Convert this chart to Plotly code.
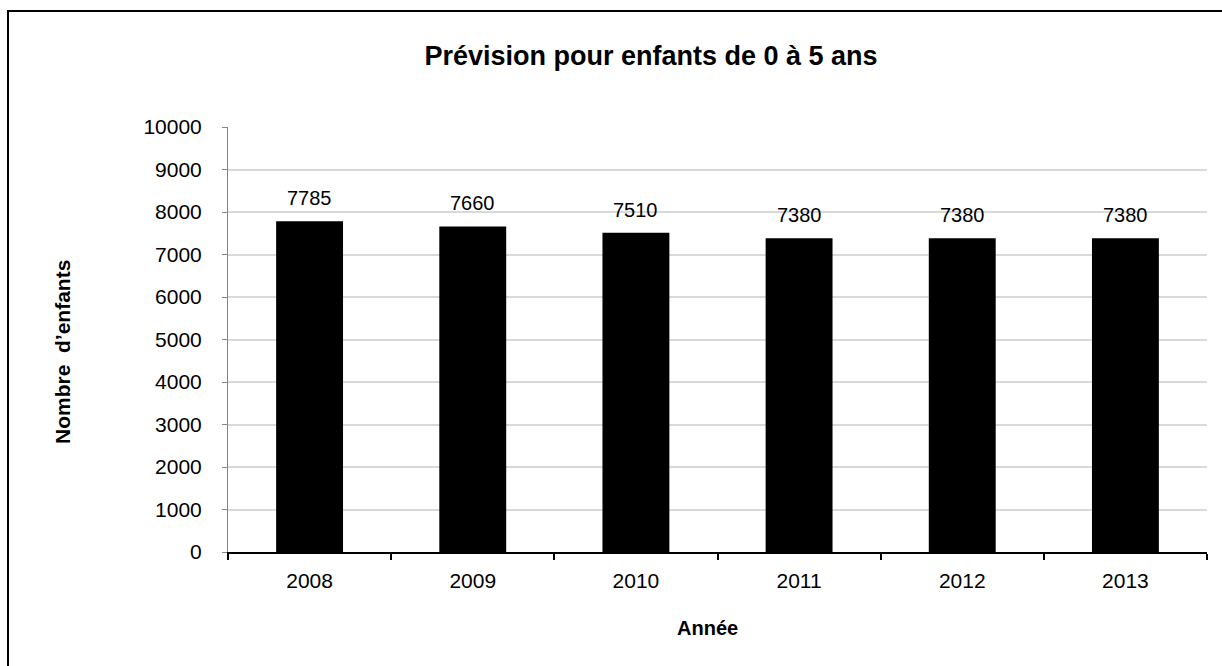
import plotly.graph_objects as go

years = ["2008", "2009", "2010", "2011", "2012", "2013"]
enfants = [7785, 7660, 7510, 7380, 7380, 7380]
y_ticks = [0, 1000, 2000, 3000, 4000, 5000, 6000, 7000, 8000, 9000, 10000]

title_text = "Prévision pour enfants de 0 à 5 ans"
x_title = "Année"
y_title = "Nombre  d’enfants"

W, H = 1222, 666
ML, MR, MT, MB = 228, 15, 127, 114
PW = W - ML - MR
PH = H - MT - MB

FONT = "Arial, 'Liberation Sans', sans-serif"

fig = go.Figure()
fig.add_trace(go.Bar(
    x=years, y=enfants,
    marker=dict(color="#000000", line=dict(width=0)),
    hoverinfo="x+y",
))

annotations = []
for i, v in enumerate(enfants):
    annotations.append(dict(
        x=i, y=v, xref="x", yref="y", text=str(v), showarrow=False,
        yanchor="bottom", yshift=10,
        font=dict(family=FONT, size=20, color="#000000"),
    ))

# axis titles
annotations.append(dict(
    x=(707 - ML) / PW, y=(H - MB - 628) / PH, xref="paper", yref="paper",
    text="<b>" + x_title + "</b>", showarrow=False,
    xanchor="center", yanchor="middle",
    font=dict(family=FONT, size=20, color="#000000"),
))
annotations.append(dict(
    x=(62 - ML) / PW, y=(H - MB - 352) / PH, xref="paper", yref="paper",
    text="<b>" + y_title + "</b>", showarrow=False, textangle=-90,
    xanchor="center", yanchor="middle",
    font=dict(family=FONT, size=21, color="#000000"),
))

# outer frame (extends past right/bottom edges)
shapes = [dict(
    type="rect", xref="paper", yref="paper",
    x0=(8 - ML) / PW, x1=(W + 20 - ML) / PW,
    y0=(H - MB - (H + 20)) / PH, y1=(H - MB - 11) / PH,
    line=dict(color="#000000", width=2), fillcolor="rgba(0,0,0,0)", layer="below",
)]

fig.update_layout(
    width=W, height=H,
    margin=dict(l=ML, r=MR, t=MT, b=MB, pad=0, autoexpand=False),
    paper_bgcolor="#ffffff", plot_bgcolor="#ffffff",
    title=dict(
        text="<b>" + title_text + "</b>",
        x=651 / W, xref="container", xanchor="center",
        y=1 - 56 / H, yref="container", yanchor="middle",
        font=dict(family=FONT, size=27, color="#000000"),
    ),
    bargap=0.59,
    showlegend=False,
    annotations=annotations,
    shapes=shapes,
    font=dict(family=FONT, color="#000000"),
)

fig.update_xaxes(
    type="category", range=[-0.5, len(years) - 0.5],
    showline=True, linecolor="#000000", linewidth=1.5,
    ticks="outside", tickson="boundaries", ticklen=6, tickcolor="#000000", tickwidth=1.5,
    tickfont=dict(family=FONT, size=21, color="#000000"),
    tickangle=0, ticklabelstandoff=9,
    showgrid=False, zeroline=False,
)
fig.update_yaxes(
    range=[0, 10000], tickvals=y_ticks, ticktext=[str(t) for t in y_ticks],
    showline=True, linecolor="#868686", linewidth=1,
    ticks="outside", ticklen=5, tickcolor="#868686", tickwidth=1,
    tickfont=dict(family=FONT, size=21, color="#000000"),
    ticklabelstandoff=16,
    showgrid=True, gridcolor="#d9d9d9", gridwidth=1.5,
    zeroline=False,
)

fig.write_html(
    "out.html",
    config={"displayModeBar": False},
    post_script="document.body.style.margin='0px';document.body.style.overflow='hidden';",
)
